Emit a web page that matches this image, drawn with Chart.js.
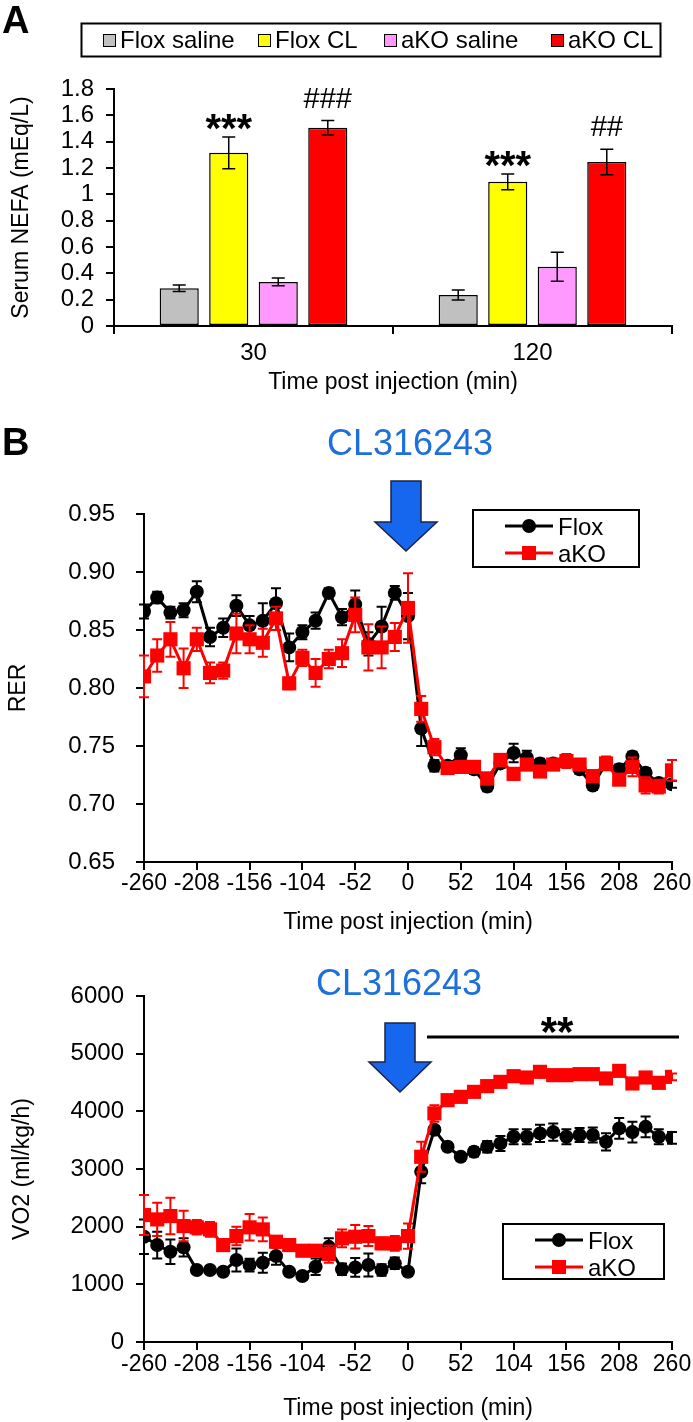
<!DOCTYPE html>
<html>
<head>
<meta charset="utf-8">
<title>Serum NEFA, RER and VO2 after CL316243</title>
<script src="https://cdn.jsdelivr.net/npm/chart.js@4.4.0/dist/chart.umd.min.js"></script>
<style>
  html, body { margin: 0; padding: 0; background: #fff; }
  body { width: 693px; height: 1422px; position: relative; overflow: hidden; }
  canvas { position: absolute; left: 0; }
</style>
</head>
<body>
<canvas id="nefaChart" width="693" height="400" style="top:0"></canvas>
<canvas id="rerChart" width="693" height="540" style="top:400px"></canvas>
<canvas id="vo2Chart" width="693" height="482" style="top:940px"></canvas>
<script>
// --- Panel A: serum NEFA (mEq/L) ---
const nefaTimes = ['30', '120'];
const nefaGroups = ['Flox saline', 'Flox CL', 'aKO saline', 'aKO CL'];
const floxSalineNefa = [0.287, 0.236];
const floxSalineErr = [0.025, 0.038];
const floxClNefa = [1.315, 1.095];
const floxClErr = [0.12, 0.06];
const akoSalineNefa = [0.335, 0.45];
const akoSalineErr = [0.03, 0.11];
const akoClNefa = [1.505, 1.245];
const akoClErr = [0.055, 0.097];
const floxClSig = ['***', '***'];
const akoClSig = ['###', '##'];
const nefaTickLabels = ['0', '0.2', '0.4', '0.6', '0.8', '1', '1.2', '1.4', '1.6', '1.8'];

// --- Panel B: indirect calorimetry, one point every 13 min ---
const timePoints = [-260, -247, -234, -221, -208, -195, -182, -169, -156, -143, -130, -117, -104, -91, -78, -65, -52, -39, -26, -13, 0,
                    13, 26, 39, 52, 65, 78, 91, 104, 117, 130, 143, 156, 169, 182, 195, 208, 221, 234, 247, 260];
const timeTickLabels = ['-260', '-208', '-156', '-104', '-52', '0', '52', '104', '156', '208', '260'];
const rerTickLabels = ['0.65', '0.70', '0.75', '0.80', '0.85', '0.90', '0.95'];
const vo2TickLabels = ['0', '1000', '2000', '3000', '4000', '5000', '6000'];

const floxRer = [0.866, 0.878, 0.865, 0.867, 0.883, 0.844, 0.852, 0.871, 0.854, 0.858, 0.873, 0.835, 0.848, 0.858, 0.882, 0.861, 0.872, 0.838, 0.853, 0.882, 0.862,
                 0.765, 0.733, 0.733, 0.742, 0.730, 0.715, 0.735, 0.744, 0.740, 0.735, 0.735, 0.737, 0.730, 0.716, 0.735, 0.730, 0.741, 0.727, 0.718, 0.717];
const floxRerErr = [0.006, 0.005, 0.005, 0.006, 0.009, 0.008, 0.008, 0.009, 0.008, 0.015, 0.013, 0.012, 0.006, 0.007, 0.004, 0.007, 0.012, 0.010, 0.017, 0.006, 0.020,
                    0.015, 0.005, 0.004, 0.006, 0.004, 0.004, 0.004, 0.008, 0.006, 0.004, 0.003, 0.003, 0.004, 0.004, 0.004, 0.004, 0.004, 0.004, 0.004, 0.003];
const akoRer = [0.810, 0.828, 0.842, 0.817, 0.842, 0.813, 0.815, 0.847, 0.842, 0.839, 0.860, 0.804, 0.826, 0.813, 0.825, 0.830, 0.863, 0.835, 0.835, 0.844, 0.869,
                0.782, 0.749, 0.731, 0.732, 0.732, 0.722, 0.738, 0.726, 0.734, 0.728, 0.734, 0.737, 0.734, 0.724, 0.735, 0.721, 0.732, 0.716, 0.715, 0.729];
const akoRerErr = [0.018, 0.014, 0.015, 0.017, 0.010, 0.009, 0.007, 0.017, 0.012, 0.012, 0.010, 0.005, 0.007, 0.012, 0.008, 0.012, 0.015, 0.020, 0.018, 0.012, 0.030,
                   0.011, 0.007, 0.004, 0.005, 0.004, 0.005, 0.005, 0.005, 0.004, 0.004, 0.004, 0.006, 0.004, 0.005, 0.006, 0.004, 0.008, 0.007, 0.006, 0.009];

const floxVo2 = [1825, 1681, 1565, 1641, 1248, 1248, 1218, 1421, 1334, 1375, 1490, 1218, 1144, 1305, 1650, 1260, 1294, 1334, 1248, 1364, 1218,
                 2952, 3680, 3385, 3212, 3298, 3385, 3444, 3558, 3558, 3617, 3640, 3558, 3590, 3590, 3471, 3704, 3640, 3731, 3558, 3540];
const floxVo2Err = [300, 231, 213, 160, 60, 50, 50, 200, 110, 173, 150, 60, 60, 144, 150, 100, 162, 200, 100, 100, 50,
                    200, 60, 60, 60, 80, 100, 130, 130, 130, 150, 150, 130, 120, 130, 150, 180, 180, 180, 130, 100];
const akoVo2 = [2201, 2126, 2184, 2010, 1988, 1953, 1681, 1837, 1988, 1953, 1739, 1681, 1583, 1583, 1525, 1797, 1825, 1837, 1710, 1710, 1837,
                3212, 3964, 4194, 4251, 4338, 4437, 4511, 4610, 4587, 4685, 4627, 4627, 4645, 4645, 4570, 4702, 4483, 4587, 4494, 4598];
const akoVo2Err = [346, 290, 316, 265, 126, 127, 80, 161, 230, 207, 100, 100, 80, 80, 150, 156, 202, 173, 100, 127, 220,
                   260, 143, 60, 50, 50, 50, 50, 50, 50, 50, 50, 50, 50, 50, 50, 60, 60, 50, 50, 60];

// colours
const BAR_COLORS = ['#c0c0c0', '#ffff00', '#ff99ff', '#ff0000'];
const FLOX_COLOR = '#000000';
const AKO_COLOR = '#ff0000';
const CL_BLUE = '#1c6fdc';
const ARROW_BLUE = '#1766ee';
const FONT = '"Liberation Sans", Arial, Helvetica, sans-serif';

Chart.defaults.font.family = FONT;
Chart.defaults.color = '#000';
Chart.defaults.animation = false;

/**
 * Black frame axis with outward tick marks, no gridlines inside the plot.
 */
function frameAxis(extra) {
    return Object.assign({
        border: { display: true, color: '#000', width: 2 },
        grid: { display: true, drawOnChartArea: false, drawTicks: true, tickLength: 8, color: '#000', lineWidth: 2 }
    }, extra);
}

/**
 * Draws +/- error bars for one dataset, read from ds.errors.
 */
function drawErrors(chart, args) {
    const ds = chart.data.datasets[args.index];
    if (!ds.errors) return;
    const yScale = chart.scales.y;
    const ctx = chart.ctx;
    const cap = ds.capHalf || 5;
    ctx.save();
    ctx.strokeStyle = ds.errorColor || '#000';
    ctx.lineWidth = ds.errorWidth || 1.5;
    args.meta.data.forEach((el, i) => {
        const raw = ds.data[i];
        const v = typeof raw === 'object' ? raw.y : raw;
        const e = ds.errors[i];
        const top = yScale.getPixelForValue(v + e);
        const bot = yScale.getPixelForValue(v - e);
        ctx.beginPath();
        ctx.moveTo(el.x, top); ctx.lineTo(el.x, bot);
        ctx.moveTo(el.x - cap, top); ctx.lineTo(el.x + cap, top);
        ctx.moveTo(el.x - cap, bot); ctx.lineTo(el.x + cap, bot);
        ctx.stroke();
    });
    ctx.restore();
}

const errorBarPlugin = {
    id: 'errorBars',
    beforeDatasetDraw(chart, args) {
        if (chart.data.datasets[args.index].errorBehind) drawErrors(chart, args);
    },
    afterDatasetDraw(chart, args) {
        if (!chart.data.datasets[args.index].errorBehind) drawErrors(chart, args);
    }
};

function drawPanelLetter(ctx, letter, x, y) {
    ctx.save();
    ctx.font = 'bold 38px ' + FONT;
    ctx.fillStyle = '#000';
    ctx.textBaseline = 'alphabetic';
    ctx.fillText(letter, x, y);
    ctx.restore();
}

function drawInjectionLabel(ctx, cx, baseline) {
    ctx.save();
    ctx.font = '36px ' + FONT;
    ctx.fillStyle = CL_BLUE;
    ctx.textAlign = 'center';
    ctx.fillText('CL316243', cx, baseline);
    ctx.restore();
}

function drawArrow(ctx, cx, top, headTop, tip) {
    ctx.save();
    ctx.beginPath();
    ctx.moveTo(cx - 15, top);
    ctx.lineTo(cx + 15, top);
    ctx.lineTo(cx + 15, headTop);
    ctx.lineTo(cx + 31, headTop);
    ctx.lineTo(cx, tip);
    ctx.lineTo(cx - 31, headTop);
    ctx.lineTo(cx - 15, headTop);
    ctx.closePath();
    ctx.fillStyle = ARROW_BLUE;
    ctx.fill();
    ctx.strokeStyle = '#1b2346';
    ctx.lineWidth = 1.5;
    ctx.stroke();
    ctx.restore();
}

/**
 * Boxed legend with line + marker, like the Excel one.
 */
function drawLineLegend(ctx, chart, bx, by, bw, bh) {
    ctx.save();
    ctx.strokeStyle = '#000';
    ctx.lineWidth = 2;
    ctx.strokeRect(bx, by, bw, bh);
    chart.data.datasets.slice().reverse().forEach((ds, i) => {
        const y = by + 16 + i * 27;
        ctx.strokeStyle = ds.borderColor;
        ctx.lineWidth = 3;
        ctx.beginPath();
        ctx.moveTo(bx + 32, y); ctx.lineTo(bx + 80, y);
        ctx.stroke();
        ctx.fillStyle = ds.borderColor;
        if (ds.pointStyle === 'circle') {
            ctx.beginPath(); ctx.arc(bx + 56, y, 7, 0, Math.PI * 2); ctx.fill();
        } else {
            ctx.fillRect(bx + 49, y - 7, 14, 14);
        }
        ctx.fillStyle = '#000';
        ctx.font = '24px ' + FONT;
        ctx.textBaseline = 'alphabetic';
        ctx.fillText(ds.label, bx + 85, y + 9);
    });
    ctx.restore();
}

// ---------- Panel A ----------
const nefaDecorPlugin = {
    id: 'nefaDecor',
    afterDraw(chart) {
        const ctx = chart.ctx;
        drawPanelLetter(ctx, 'A', 2, 33);

        // boxed legend
        ctx.save();
        ctx.strokeStyle = '#000';
        ctx.lineWidth = 2;
        ctx.strokeRect(81.5, 23.5, 579, 33);
        const itemX = [103, 258, 384, 551];
        chart.data.datasets.forEach((ds, i) => {
            ctx.fillStyle = ds.backgroundColor;
            ctx.fillRect(itemX[i] + 0.5, 34.5, 12, 12);
            ctx.lineWidth = 1;
            ctx.strokeRect(itemX[i] + 0.5, 34.5, 12, 12);
            ctx.fillStyle = '#000';
            ctx.font = '24px ' + FONT;
            ctx.fillText(ds.label, itemX[i] + 17, 48);
        });

        // significance marks above the CL bars
        const y = chart.scales.y;
        ctx.textAlign = 'center';
        chart.data.datasets.forEach((ds, d) => {
            if (!ds.sig) return;
            chart.getDatasetMeta(d).data.forEach((bar, i) => {
                const errTop = y.getPixelForValue(ds.data[i] + ds.errors[i]);
                if (ds.sig[i].startsWith('*')) {
                    ctx.font = 'bold 40px ' + FONT;
                    ctx.fillText(ds.sig[i], bar.x, errTop + 5);
                } else {
                    ctx.font = '29px ' + FONT;
                    ctx.fillText(ds.sig[i], bar.x, errTop - 13);
                }
            });
        });
        ctx.restore();
    }
};

const nefaSeries = [
    { mean: floxSalineNefa, err: floxSalineErr },
    { mean: floxClNefa, err: floxClErr, sig: floxClSig },
    { mean: akoSalineNefa, err: akoSalineErr },
    { mean: akoClNefa, err: akoClErr, sig: akoClSig }
];

new Chart(document.getElementById('nefaChart'), {
    type: 'bar',
    data: {
        labels: nefaTimes,
        datasets: nefaSeries.map((s, i) => ({
            label: nefaGroups[i],
            data: s.mean,
            errors: s.err,
            sig: s.sig,
            backgroundColor: BAR_COLORS[i],
            borderColor: '#000',
            borderWidth: 1.5,
            borderSkipped: false,
            barPercentage: 0.79,
            categoryPercentage: 0.71,
            capHalf: 6.5,
            errorWidth: 1.5
        }))
    },
    options: {
        responsive: false,
        layout: { padding: { left: 0, right: 21, top: 89, bottom: 0 } },
        plugins: { legend: { display: false }, tooltip: { enabled: false } },
        scales: {
            x: frameAxis({
                ticks: { font: { size: 24 }, padding: 5 },
                title: { display: true, text: 'Time post injection (min)', font: { size: 23 }, padding: { top: 0, bottom: 4 } },
                afterFit: (s) => { s.height = 74; }
            }),
            y: frameAxis({
                min: 0, max: 1.8,
                ticks: { stepSize: 0.2, autoSkip: false, font: { size: 24 }, padding: 12, callback: (v, i) => nefaTickLabels[i] },
                title: { display: true, text: 'Serum NEFA (mEq/L)', font: { size: 23 }, padding: { top: 8, bottom: 0 } },
                afterFit: (s) => { s.width = 114; }
            })
        }
    },
    plugins: [errorBarPlugin, nefaDecorPlugin]
});

// ---------- Panel B ----------
function seriesPoints(values) {
    return values.map((v, i) => ({ x: timePoints[i], y: v }));
}

function calorimetryDatasets(floxVals, floxErr, akoVals, akoErr) {
    return [
        {
            label: 'aKO', data: seriesPoints(akoVals), errors: akoErr,
            borderColor: AKO_COLOR, backgroundColor: AKO_COLOR, borderWidth: 3,
            pointStyle: 'rect', pointRadius: 10, pointBorderWidth: 0, pointHoverRadius: 10,
            errorColor: AKO_COLOR, errorWidth: 2, capHalf: 5, errorBehind: true, order: 0
        },
        {
            label: 'Flox', data: seriesPoints(floxVals), errors: floxErr,
            borderColor: FLOX_COLOR, backgroundColor: FLOX_COLOR, borderWidth: 3,
            pointStyle: 'circle', pointRadius: 7, pointBorderWidth: 0, pointHoverRadius: 7,
            errorColor: FLOX_COLOR, errorWidth: 2, capHalf: 5, errorBehind: true, order: 1
        }
    ];
}

function timeAxis(height, tickPad, titlePad) {
    return frameAxis({
        type: 'linear', min: -260, max: 260,
        ticks: { stepSize: 52, autoSkip: false, maxRotation: 0, font: { size: 23 }, padding: tickPad,
                 callback: (v, i) => timeTickLabels[i] },
        title: { display: true, text: 'Time post injection (min)', font: { size: 23 }, padding: { top: 0, bottom: titlePad } },
        afterFit: (s) => { s.height = height; }
    });
}

const rerDecorPlugin = {
    id: 'rerDecor',
    afterDraw(chart) {
        const ctx = chart.ctx;
        drawPanelLetter(ctx, 'B', 2, 55);
        drawInjectionLabel(ctx, 410, 55);
        drawArrow(ctx, 406, 81, 122, 151);
        drawLineLegend(ctx, chart, 473, 110, 166, 57);
    }
};

new Chart(document.getElementById('rerChart'), {
    type: 'line',
    data: { datasets: calorimetryDatasets(floxRer, floxRerErr, akoRer, akoRerErr) },
    options: {
        responsive: false,
        layout: { padding: { left: 0, right: 21, top: 114, bottom: 0 } },
        plugins: { legend: { display: false }, tooltip: { enabled: false } },
        scales: {
            x: timeAxis(78, 0, 4),
            y: frameAxis({
                min: 0.65, max: 0.95,
                ticks: { stepSize: 0.05, autoSkip: false, font: { size: 24 }, padding: 21, callback: (v, i) => rerTickLabels[i] },
                title: { display: true, text: 'RER', font: { size: 23 }, padding: { top: 5, bottom: 0 } },
                afterFit: (s) => { s.width = 144; }
            })
        }
    },
    plugins: [errorBarPlugin, rerDecorPlugin]
});

const vo2DecorPlugin = {
    id: 'vo2Decor',
    afterDraw(chart) {
        const ctx = chart.ctx;
        drawInjectionLabel(ctx, 399, 55);
        drawArrow(ctx, 400, 83, 122, 152);

        // significance bar over the post-injection period
        ctx.save();
        ctx.strokeStyle = '#000';
        ctx.lineWidth = 3;
        ctx.beginPath();
        ctx.moveTo(427, 97); ctx.lineTo(679, 97);
        ctx.stroke();
        ctx.font = 'bold 42px ' + FONT;
        ctx.fillStyle = '#000';
        ctx.textAlign = 'center';
        ctx.fillText('**', 557, 106);
        ctx.restore();

        drawLineLegend(ctx, chart, 503, 284, 161, 55);
    }
};

new Chart(document.getElementById('vo2Chart'), {
    type: 'line',
    data: { datasets: calorimetryDatasets(floxVo2, floxVo2Err, akoVo2, akoVo2Err) },
    options: {
        responsive: false,
        layout: { padding: { left: 0, right: 21, top: 56, bottom: 0 } },
        plugins: { legend: { display: false }, tooltip: { enabled: false } },
        scales: {
            x: timeAxis(80, 1, 0),
            y: frameAxis({
                min: 0, max: 6000,
                ticks: { stepSize: 1000, autoSkip: false, font: { size: 24 }, padding: 12, callback: (v, i) => vo2TickLabels[i] },
                title: { display: true, text: 'VO2 (ml/kg/h)', font: { size: 23 }, padding: { top: 9, bottom: 0 } },
                afterFit: (s) => { s.width = 144; }
            })
        }
    },
    plugins: [errorBarPlugin, vo2DecorPlugin]
});
</script>
</body>
</html>
